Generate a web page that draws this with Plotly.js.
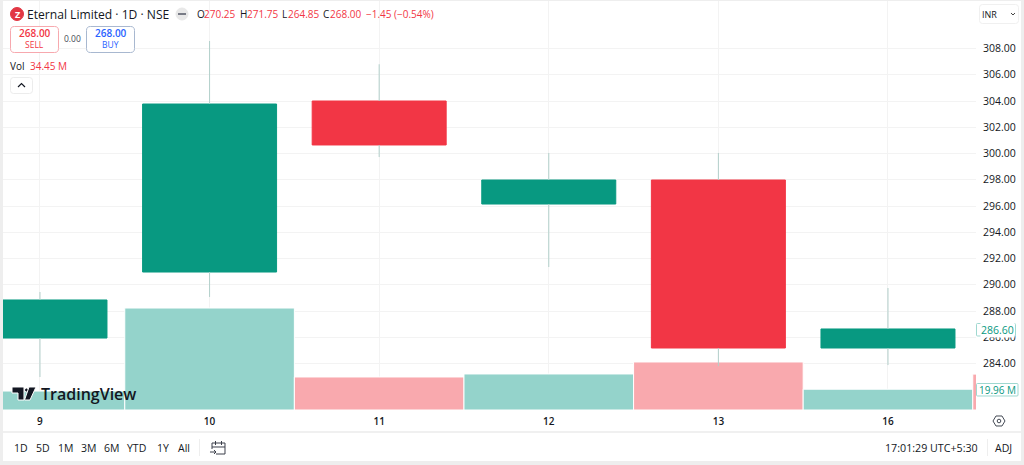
<!DOCTYPE html>
<html><head><meta charset="utf-8">
<script src="https://cdn.plot.ly/plotly-3.0.1.min.js"></script>
<style>html,body{margin:0;padding:0;background:#fff;overflow:hidden}#c{width:1024px;height:465px}</style>
</head><body><div id="c"></div>
<script>
const days=["9","10","11","12","13","16","17"];
const opens=[285.94,290.97,304.0,296.15,297.98,285.18];
const highs=[289.45,308.57,306.8,300.04,300.04,289.75];
const lows=[282.97,289.07,299.73,291.35,283.8,283.88];
const closes=[288.84,303.77,300.65,297.98,285.18,286.63];
const volumes=[18.2,97.9,31.7,34.6,46.1,19.96,34.45];
const volumeUp=[true,true,false,true,false,true,false];
const priceTicks=[284,286,288,290,292,294,296,298,300,302,304,306,308];

const W=1024,H=465;
const PL=3,PR=976,PB=410;
const px=x=>(x-PL)/(PR-PL), py=y=>1-y/PB;
const GREEN='#089981',RED='#F23645',DARK='#131722',WICK='#b2cfca';
const FONT='"Open Sans", "Noto Sans", sans-serif';
const candleDays=days.slice(0,opens.length);

function wickSeg(){
  const xs=[],ys=[];
  candleDays.forEach((d,i)=>{
    xs.push(d,d,null,d,d,null);
    ys.push(highs[i],Math.max(opens[i],closes[i]),null,Math.min(opens[i],closes[i]),lows[i],null);
  });
  return {x:xs,y:ys};
}
const w=wickSeg();
const data=[
 {type:'bar',x:days,y:volumes,yaxis:'y',xaxis:'x',width:1,
  marker:{color:volumeUp.map(u=>u?'#94d3cb':'#f9a9ae'),line:{color:'#ffffff',width:1}},hoverinfo:'skip'},
 {type:'scatter',mode:'lines',x:w.x,y:w.y,yaxis:'y2',xaxis:'x',line:{color:WICK,width:1},hoverinfo:'skip',connectgaps:false},
 {type:'candlestick',x:candleDays,open:opens,close:closes,
  high:opens.map((o,i)=>Math.max(o,closes[i])),low:opens.map((o,i)=>Math.min(o,closes[i])),
  yaxis:'y2',xaxis:'x',whiskerwidth:0,
  increasing:{line:{color:GREEN,width:1},fillcolor:GREEN},
  decreasing:{line:{color:RED,width:1},fillcolor:RED}}
];

function T(text,x,y,size,color,extra){
  const e=extra||{};
  const left=!e.xanchor;
  return Object.assign({text:text,xref:'paper',yref:'paper',x:px(left?x-1:x),y:py(y),xanchor:'left',yanchor:'middle',
    showarrow:false,font:{family:FONT,size:size,color:color},borderpad:0},e);
}
function rr(x0,y0,x1,y1,r){
  const X=v=>px(v).toFixed(5),Y=v=>py(v).toFixed(5);
  return `M${X(x0+r)},${Y(y0)}L${X(x1-r)},${Y(y0)}Q${X(x1)},${Y(y0)} ${X(x1)},${Y(y0+r)}L${X(x1)},${Y(y1-r)}Q${X(x1)},${Y(y1)} ${X(x1-r)},${Y(y1)}L${X(x0+r)},${Y(y1)}Q${X(x0)},${Y(y1)} ${X(x0)},${Y(y1-r)}L${X(x0)},${Y(y0+r)}Q${X(x0)},${Y(y0)} ${X(x0+r)},${Y(y0)}Z`;
}
function poly(pts,close){
  return pts.map((p,i)=>(i?'L':'M')+px(p[0]).toFixed(5)+','+py(p[1]).toFixed(5)).join('')+(close?'Z':'');
}
function S(path,line,fill,lw){
  return {type:'path',xref:'paper',yref:'paper',path:path,layer:'above',fillcolor:fill||'rgba(0,0,0,0)',line:{color:line||'rgba(0,0,0,0)',width:lw===undefined?1:lw}};
}
function R(x0,y0,x1,y1,fill){
  return {type:'rect',xref:'paper',yref:'paper',x0:px(x0),x1:px(x1),y0:py(y0),y1:py(y1),fillcolor:fill,line:{width:0},layer:'above'};
}
function C(cx,cy,r,fill,line){
  return {type:'circle',xref:'paper',yref:'paper',x0:px(cx-r),x1:px(cx+r),y0:py(cy+r),y1:py(cy-r),fillcolor:fill,line:{color:line||fill,width:1},layer:'above'};
}

const shapes=[
 // frame
 R(0,0,W,1,'#eeeeee'),R(0,0,3,H,'#eeeeee'),R(1021,0,W,H,'#eeeeee'),R(0,461,W,H,'#eeeeee'),
 R(3,431,1021,433,'#f0f0f0'),
 // header logo + status dot
 C(17,14,6.5,'#e23744'),
 C(182,14,6,'#e8e8e8'),
 R(178,13,186,15,'#787b86'),
 // sell / buy
 S(rr(10.5,26.5,58.5,52.5,4),'#f7a8ae','#ffffff',1),
 S(rr(86.5,26.5,134.5,52.5,4),'#a8b8d0','#ffffff',1),
 // collapse button
 S(rr(10.5,77.5,32.5,93.5,3),'#ececec','#ffffff',1),
 S(poly([[18,87],[21.5,83.5],[25,87]]),'#131722',null,1.2),
 // INR box
 S(rr(979.5,4.5,1018.5,23.5,3),'#f0f0f0','#ffffff',1),
 S(poly([[1011,13],[1013,15],[1015,13]]),'#444444',null,1),
 // last price + volume tags
 S(rr(976.5,323.5,1015.5,336,1),'#9fd8d0','#ffffff',1),
 S(rr(976.5,383.5,1018,396,1),'#9fd8d0','#ffffff',1),
 // TradingView glyph
 S(poly([[12,387],[24,387],[24,400],[18,400],[18,393],[12,393]],true),'#ffffff','#131722',1),
 C(26.5,390,2,'#131722','#ffffff'),
 S(poly([[29,387],[36,387],[30,400],[24.5,400]],true),'#ffffff','#131722',1),
 // settings hexagon
 S(poly([[993,421],[996,416],[1002,416],[1005,421],[1002,426],[996,426]],true),'#444a55',null,1),
 C(999,421,1.8,'#ffffff','#444a55'),
 // toolbar separators
 R(199,439,200,456,'#eeeeee'),
 R(987,439,988,456,'#eeeeee'),
 // calendar
 S(poly([[212,443],[225,443],[225,454],[216,454]]),'#3b3f4a',null,1),
 S(poly([[212,443],[212,449]]),'#3b3f4a',null,1),
 S(poly([[212,447],[225,447]]),'#3b3f4a',null,1),
 S(poly([[215.5,441],[215.5,445]]),'#3b3f4a',null,1),
 S(poly([[221.5,441],[221.5,445]]),'#3b3f4a',null,1),
 S(poly([[210,452],[216,452]]),'#3b3f4a',null,1),
 S(poly([[214,450],[216,452],[214,454]]),'#3b3f4a',null,1)
];

const ann=[
 T('Z',17,14,9,'#ffffff',{xanchor:'center',font:{family:FONT,size:9,color:'#fff',weight:700}}),
 T('Eternal Limited · 1D · NSE',27,14,12.1,DARK),
 T('O',197,14,10,DARK),T('270.25',204,14,10,RED),
 T('H',240,14,10,DARK),T('271.75',247,14,10,RED),
 T('L',282,14,10,DARK),T('264.85',288,14,10,RED),
 T('C',323,14,10,DARK),T('268.00',330,14,10,RED),
 T('−1.45 (−0.54%)',366,14,10,RED),
 T('268.00',34.5,33,10,RED,{xanchor:'center',font:{family:FONT,size:10,color:RED,weight:600}}),
 T('SELL',34.5,45,8.5,RED,{xanchor:'center'}),
 T('0.00',72.5,39,8.5,'#444a55',{xanchor:'center'}),
 T('268.00',110.5,33,10,'#2962ff',{xanchor:'center',font:{family:FONT,size:10,color:'#2962ff',weight:600}}),
 T('BUY',110.5,45,8.5,'#2962ff',{xanchor:'center'}),
 T('Vol',10,66,10,DARK),T('34.45 M',30,66,10,RED),
 T('INR',982,14,9,'#131722'),
 T('286.60',997.5,330,10.5,'#089981',{xanchor:'center',bgcolor:'#ffffff'}),
 T('19.96 M',997.5,389.5,10,'#089981',{xanchor:'center'}),
 T('TradingView',41,394,16,DARK,{font:{family:FONT,size:16,color:DARK,weight:600}}),
 T('1D',14,447.5,10.5,DARK),T('5D',36,447.5,10.5,DARK),T('1M',58,447.5,10.5,DARK),
 T('3M',81,447.5,10.5,DARK),T('6M',104,447.5,10.5,DARK),T('YTD',127,447.5,10.5,DARK),
 T('1Y',157,447.5,10.5,DARK),T('All',178,447.5,10.5,DARK),
 T('17:01:29 UTC+5:30',885,447.5,10.7,DARK),T('ADJ',995,447.5,10.5,DARK)
];

const layout={
 width:W,height:H,margin:{l:PL,r:W-PR,t:0,b:H-PB,pad:0},paper_bgcolor:'#ffffff',plot_bgcolor:'#ffffff',
 showlegend:false,barmode:'overlay',bargap:0,boxgap:0.21,boxgroupgap:0,hovermode:false,
 xaxis:{type:'category',categoryorder:'array',categoryarray:days,range:[-0.218,5.519],domain:[0,1],
   tickmode:'array',tickvals:days,ticktext:days,showgrid:true,gridcolor:'#f3f3f3',gridwidth:1,
   ticks:'outside',ticklen:2,tickcolor:'rgba(0,0,0,0)',showline:false,zeroline:false,
   rangeslider:{visible:false},fixedrange:true,
   tickfont:{family:FONT,size:10,color:DARK,weight:600}},
 yaxis:{range:[0,393.6],visible:false,showgrid:false,zeroline:false,fixedrange:true},
 yaxis2:{overlaying:'y',side:'right',anchor:'x',range:[280.457,311.695],tickmode:'array',tickvals:priceTicks,
   ticktext:priceTicks.map(v=>v.toFixed(2)),showgrid:true,gridcolor:'#f3f3f3',gridwidth:1,zeroline:false,
   ticks:'outside',ticklen:4,tickcolor:'rgba(0,0,0,0)',showline:false,fixedrange:true,
   tickfont:{family:FONT,size:10.5,color:DARK}},
 shapes:shapes,annotations:ann
};
Plotly.newPlot('c',data,layout,{displayModeBar:false,staticPlot:true,responsive:false});
</script></body></html>
